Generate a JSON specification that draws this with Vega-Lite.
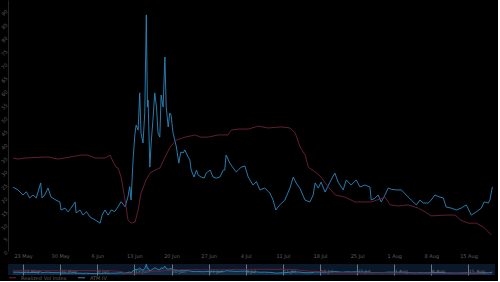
{
  "$schema": "https://vega.github.io/schema/vega-lite/v6.json",
  "background": "#000000",
  "padding": {"left": 0, "top": 0, "right": 3, "bottom": 0},
  "spacing": 4,
  "config": {
    "view": {"stroke": null},
    "font": "DejaVu Sans",
    "axis": {"labelFont": "DejaVu Sans", "labelColor": "#5e5e5e", "labelFontSize": 5, "ticks": false, "grid": false, "title": null}
  },
  "data": {
    "values": [
      {"t": "2016-05-21T03:00", "s": "ATM IV", "v": 23.8},
      {"t": "2016-05-22T01:00", "s": "ATM IV", "v": 22.8},
      {"t": "2016-05-23T00:00", "s": "ATM IV", "v": 20.9},
      {"t": "2016-05-23T15:00", "s": "ATM IV", "v": 22.1},
      {"t": "2016-05-24T06:00", "s": "ATM IV", "v": 19.8},
      {"t": "2016-05-24T21:00", "s": "ATM IV", "v": 20.9},
      {"t": "2016-05-25T12:00", "s": "ATM IV", "v": 19.8},
      {"t": "2016-05-26T08:00", "s": "ATM IV", "v": 25.4},
      {"t": "2016-05-26T14:00", "s": "ATM IV", "v": 19.8},
      {"t": "2016-05-27T02:00", "s": "ATM IV", "v": 20.9},
      {"t": "2016-05-27T17:00", "s": "ATM IV", "v": 23.5},
      {"t": "2016-05-28T07:00", "s": "ATM IV", "v": 20.1},
      {"t": "2016-05-29T05:00", "s": "ATM IV", "v": 19.0},
      {"t": "2016-05-29T23:00", "s": "ATM IV", "v": 18.3},
      {"t": "2016-05-30T04:00", "s": "ATM IV", "v": 15.3},
      {"t": "2016-05-30T22:00", "s": "ATM IV", "v": 16.0},
      {"t": "2016-05-31T12:00", "s": "ATM IV", "v": 14.6},
      {"t": "2016-06-01T00:00", "s": "ATM IV", "v": 15.9},
      {"t": "2016-06-01T20:00", "s": "ATM IV", "v": 18.3},
      {"t": "2016-06-02T00:00", "s": "ATM IV", "v": 14.2},
      {"t": "2016-06-02T18:00", "s": "ATM IV", "v": 15.3},
      {"t": "2016-06-03T08:00", "s": "ATM IV", "v": 13.4},
      {"t": "2016-06-03T23:00", "s": "ATM IV", "v": 14.7},
      {"t": "2016-06-04T15:00", "s": "ATM IV", "v": 12.7},
      {"t": "2016-06-05T14:00", "s": "ATM IV", "v": 11.6},
      {"t": "2016-06-06T13:00", "s": "ATM IV", "v": 10.4},
      {"t": "2016-06-06T22:00", "s": "ATM IV", "v": 13.4},
      {"t": "2016-06-07T11:00", "s": "ATM IV", "v": 15.3},
      {"t": "2016-06-08T01:00", "s": "ATM IV", "v": 13.4},
      {"t": "2016-06-08T15:00", "s": "ATM IV", "v": 15.3},
      {"t": "2016-06-09T07:00", "s": "ATM IV", "v": 14.7},
      {"t": "2016-06-09T22:00", "s": "ATM IV", "v": 16.5},
      {"t": "2016-06-10T12:00", "s": "ATM IV", "v": 18.4},
      {"t": "2016-06-11T06:00", "s": "ATM IV", "v": 16.5},
      {"t": "2016-06-11T19:00", "s": "ATM IV", "v": 20.3},
      {"t": "2016-06-12T03:00", "s": "ATM IV", "v": 24.0},
      {"t": "2016-06-12T09:00", "s": "ATM IV", "v": 19.0},
      {"t": "2016-06-12T18:00", "s": "ATM IV", "v": 34.0},
      {"t": "2016-06-13T02:00", "s": "ATM IV", "v": 43.3},
      {"t": "2016-06-13T08:00", "s": "ATM IV", "v": 47.0},
      {"t": "2016-06-13T17:00", "s": "ATM IV", "v": 45.1},
      {"t": "2016-06-14T00:00", "s": "ATM IV", "v": 59.0},
      {"t": "2016-06-14T06:00", "s": "ATM IV", "v": 44.0},
      {"t": "2016-06-14T15:00", "s": "ATM IV", "v": 40.3},
      {"t": "2016-06-14T23:00", "s": "ATM IV", "v": 51.5},
      {"t": "2016-06-15T06:00", "s": "ATM IV", "v": 88.1},
      {"t": "2016-06-15T11:00", "s": "ATM IV", "v": 53.7},
      {"t": "2016-06-15T14:00", "s": "ATM IV", "v": 56.3},
      {"t": "2016-06-15T22:00", "s": "ATM IV", "v": 31.3},
      {"t": "2016-06-16T04:00", "s": "ATM IV", "v": 40.3},
      {"t": "2016-06-16T13:00", "s": "ATM IV", "v": 50.0},
      {"t": "2016-06-16T20:00", "s": "ATM IV", "v": 59.0},
      {"t": "2016-06-17T04:00", "s": "ATM IV", "v": 53.7},
      {"t": "2016-06-17T11:00", "s": "ATM IV", "v": 44.0},
      {"t": "2016-06-17T19:00", "s": "ATM IV", "v": 42.5},
      {"t": "2016-06-18T01:00", "s": "ATM IV", "v": 58.2},
      {"t": "2016-06-18T10:00", "s": "ATM IV", "v": 53.7},
      {"t": "2016-06-18T18:00", "s": "ATM IV", "v": 72.4},
      {"t": "2016-06-19T00:00", "s": "ATM IV", "v": 53.7},
      {"t": "2016-06-19T09:00", "s": "ATM IV", "v": 46.3},
      {"t": "2016-06-19T16:00", "s": "ATM IV", "v": 51.5},
      {"t": "2016-06-19T22:00", "s": "ATM IV", "v": 50.7},
      {"t": "2016-06-20T07:00", "s": "ATM IV", "v": 44.0},
      {"t": "2016-06-20T15:00", "s": "ATM IV", "v": 41.4},
      {"t": "2016-06-20T22:00", "s": "ATM IV", "v": 38.8},
      {"t": "2016-06-21T09:00", "s": "ATM IV", "v": 32.8},
      {"t": "2016-06-21T18:00", "s": "ATM IV", "v": 36.9},
      {"t": "2016-06-22T05:00", "s": "ATM IV", "v": 36.6},
      {"t": "2016-06-22T12:00", "s": "ATM IV", "v": 37.7},
      {"t": "2016-06-23T03:00", "s": "ATM IV", "v": 35.1},
      {"t": "2016-06-23T11:00", "s": "ATM IV", "v": 34.0},
      {"t": "2016-06-23T17:00", "s": "ATM IV", "v": 30.2},
      {"t": "2016-06-24T06:00", "s": "ATM IV", "v": 27.6},
      {"t": "2016-06-24T17:00", "s": "ATM IV", "v": 30.2},
      {"t": "2016-06-25T00:00", "s": "ATM IV", "v": 28.4},
      {"t": "2016-06-25T14:00", "s": "ATM IV", "v": 27.6},
      {"t": "2016-06-26T04:00", "s": "ATM IV", "v": 27.2},
      {"t": "2016-06-26T13:00", "s": "ATM IV", "v": 29.1},
      {"t": "2016-06-27T07:00", "s": "ATM IV", "v": 30.2},
      {"t": "2016-06-27T20:00", "s": "ATM IV", "v": 27.6},
      {"t": "2016-06-28T10:00", "s": "ATM IV", "v": 27.2},
      {"t": "2016-06-29T03:00", "s": "ATM IV", "v": 27.6},
      {"t": "2016-06-29T18:00", "s": "ATM IV", "v": 30.2},
      {"t": "2016-06-30T01:00", "s": "ATM IV", "v": 30.2},
      {"t": "2016-06-30T07:00", "s": "ATM IV", "v": 35.8},
      {"t": "2016-07-01T00:00", "s": "ATM IV", "v": 32.8},
      {"t": "2016-07-01T15:00", "s": "ATM IV", "v": 31.0},
      {"t": "2016-07-02T05:00", "s": "ATM IV", "v": 29.5},
      {"t": "2016-07-02T14:00", "s": "ATM IV", "v": 30.2},
      {"t": "2016-07-03T03:00", "s": "ATM IV", "v": 31.3},
      {"t": "2016-07-03T20:00", "s": "ATM IV", "v": 31.7},
      {"t": "2016-07-04T11:00", "s": "ATM IV", "v": 27.6},
      {"t": "2016-07-05T09:00", "s": "ATM IV", "v": 24.6},
      {"t": "2016-07-06T00:00", "s": "ATM IV", "v": 25.9},
      {"t": "2016-07-06T16:00", "s": "ATM IV", "v": 22.8},
      {"t": "2016-07-07T14:00", "s": "ATM IV", "v": 23.5},
      {"t": "2016-07-08T13:00", "s": "ATM IV", "v": 21.6},
      {"t": "2016-07-09T04:00", "s": "ATM IV", "v": 19.0},
      {"t": "2016-07-09T16:00", "s": "ATM IV", "v": 15.3},
      {"t": "2016-07-10T10:00", "s": "ATM IV", "v": 17.2},
      {"t": "2016-07-11T09:00", "s": "ATM IV", "v": 19.0},
      {"t": "2016-07-12T08:00", "s": "ATM IV", "v": 23.5},
      {"t": "2016-07-12T23:00", "s": "ATM IV", "v": 27.6},
      {"t": "2016-07-13T12:00", "s": "ATM IV", "v": 25.4},
      {"t": "2016-07-14T05:00", "s": "ATM IV", "v": 23.4},
      {"t": "2016-07-15T04:00", "s": "ATM IV", "v": 19.0},
      {"t": "2016-07-16T02:00", "s": "ATM IV", "v": 18.3},
      {"t": "2016-07-16T17:00", "s": "ATM IV", "v": 20.9},
      {"t": "2016-07-17T02:00", "s": "ATM IV", "v": 25.4},
      {"t": "2016-07-17T16:00", "s": "ATM IV", "v": 23.5},
      {"t": "2016-07-18T05:00", "s": "ATM IV", "v": 25.7},
      {"t": "2016-07-18T23:00", "s": "ATM IV", "v": 22.0},
      {"t": "2016-07-19T21:00", "s": "ATM IV", "v": 25.7},
      {"t": "2016-07-20T19:00", "s": "ATM IV", "v": 29.1},
      {"t": "2016-07-21T10:00", "s": "ATM IV", "v": 25.7},
      {"t": "2016-07-22T09:00", "s": "ATM IV", "v": 22.8},
      {"t": "2016-07-22T23:00", "s": "ATM IV", "v": 26.5},
      {"t": "2016-07-23T21:00", "s": "ATM IV", "v": 24.6},
      {"t": "2016-07-24T20:00", "s": "ATM IV", "v": 26.5},
      {"t": "2016-07-25T13:00", "s": "ATM IV", "v": 23.9},
      {"t": "2016-07-26T11:00", "s": "ATM IV", "v": 24.6},
      {"t": "2016-07-27T10:00", "s": "ATM IV", "v": 23.9},
      {"t": "2016-07-27T16:00", "s": "ATM IV", "v": 19.0},
      {"t": "2016-07-28T08:00", "s": "ATM IV", "v": 19.7},
      {"t": "2016-07-28T23:00", "s": "ATM IV", "v": 20.9},
      {"t": "2016-07-29T13:00", "s": "ATM IV", "v": 18.3},
      {"t": "2016-07-30T06:00", "s": "ATM IV", "v": 20.9},
      {"t": "2016-07-30T21:00", "s": "ATM IV", "v": 23.5},
      {"t": "2016-07-31T12:00", "s": "ATM IV", "v": 23.0},
      {"t": "2016-08-01T09:00", "s": "ATM IV", "v": 22.8},
      {"t": "2016-08-02T08:00", "s": "ATM IV", "v": 22.8},
      {"t": "2016-08-03T06:00", "s": "ATM IV", "v": 20.9},
      {"t": "2016-08-04T05:00", "s": "ATM IV", "v": 19.0},
      {"t": "2016-08-05T04:00", "s": "ATM IV", "v": 17.2},
      {"t": "2016-08-05T20:00", "s": "ATM IV", "v": 19.0},
      {"t": "2016-08-06T11:00", "s": "ATM IV", "v": 17.9},
      {"t": "2016-08-07T10:00", "s": "ATM IV", "v": 17.9},
      {"t": "2016-08-07T23:00", "s": "ATM IV", "v": 19.0},
      {"t": "2016-08-08T16:00", "s": "ATM IV", "v": 20.9},
      {"t": "2016-08-09T15:00", "s": "ATM IV", "v": 20.1},
      {"t": "2016-08-10T06:00", "s": "ATM IV", "v": 19.8},
      {"t": "2016-08-10T19:00", "s": "ATM IV", "v": 16.4},
      {"t": "2016-08-11T18:00", "s": "ATM IV", "v": 16.0},
      {"t": "2016-08-12T17:00", "s": "ATM IV", "v": 15.3},
      {"t": "2016-08-13T15:00", "s": "ATM IV", "v": 16.0},
      {"t": "2016-08-14T14:00", "s": "ATM IV", "v": 17.2},
      {"t": "2016-08-15T13:00", "s": "ATM IV", "v": 13.4},
      {"t": "2016-08-16T11:00", "s": "ATM IV", "v": 14.6},
      {"t": "2016-08-17T10:00", "s": "ATM IV", "v": 16.0},
      {"t": "2016-08-17T23:00", "s": "ATM IV", "v": 18.3},
      {"t": "2016-08-18T18:00", "s": "ATM IV", "v": 17.9},
      {"t": "2016-08-19T01:00", "s": "ATM IV", "v": 19.0},
      {"t": "2016-08-19T12:00", "s": "ATM IV", "v": 23.9},
      {"t": "2016-05-21T03:00", "s": "Realized Vol Index", "v": 34.7},
      {"t": "2016-05-22T01:00", "s": "Realized Vol Index", "v": 34.3},
      {"t": "2016-05-23T09:00", "s": "Realized Vol Index", "v": 34.7},
      {"t": "2016-05-27T17:00", "s": "Realized Vol Index", "v": 35.1},
      {"t": "2016-05-29T15:00", "s": "Realized Vol Index", "v": 34.3},
      {"t": "2016-06-02T23:00", "s": "Realized Vol Index", "v": 35.8},
      {"t": "2016-06-04T06:00", "s": "Realized Vol Index", "v": 35.8},
      {"t": "2016-06-05T14:00", "s": "Realized Vol Index", "v": 34.7},
      {"t": "2016-06-07T11:00", "s": "Realized Vol Index", "v": 34.7},
      {"t": "2016-06-08T10:00", "s": "Realized Vol Index", "v": 35.8},
      {"t": "2016-06-09T00:00", "s": "Realized Vol Index", "v": 33.2},
      {"t": "2016-06-09T13:00", "s": "Realized Vol Index", "v": 31.3},
      {"t": "2016-06-09T22:00", "s": "Realized Vol Index", "v": 31.0},
      {"t": "2016-06-10T12:00", "s": "Realized Vol Index", "v": 27.6},
      {"t": "2016-06-11T06:00", "s": "Realized Vol Index", "v": 19.0},
      {"t": "2016-06-11T19:00", "s": "Realized Vol Index", "v": 11.6},
      {"t": "2016-06-12T09:00", "s": "Realized Vol Index", "v": 10.4},
      {"t": "2016-06-13T03:00", "s": "Realized Vol Index", "v": 10.8},
      {"t": "2016-06-13T17:00", "s": "Realized Vol Index", "v": 15.3},
      {"t": "2016-06-14T06:00", "s": "Realized Vol Index", "v": 21.6},
      {"t": "2016-06-15T05:00", "s": "Realized Vol Index", "v": 26.5},
      {"t": "2016-06-15T23:00", "s": "Realized Vol Index", "v": 29.1},
      {"t": "2016-06-16T22:00", "s": "Realized Vol Index", "v": 30.2},
      {"t": "2016-06-17T20:00", "s": "Realized Vol Index", "v": 31.0},
      {"t": "2016-06-18T19:00", "s": "Realized Vol Index", "v": 35.1},
      {"t": "2016-06-19T18:00", "s": "Realized Vol Index", "v": 38.8},
      {"t": "2016-06-20T21:00", "s": "Realized Vol Index", "v": 41.4},
      {"t": "2016-06-22T14:00", "s": "Realized Vol Index", "v": 42.5},
      {"t": "2016-06-24T11:00", "s": "Realized Vol Index", "v": 43.3},
      {"t": "2016-06-25T10:00", "s": "Realized Vol Index", "v": 42.5},
      {"t": "2016-06-26T22:00", "s": "Realized Vol Index", "v": 42.5},
      {"t": "2016-06-28T19:00", "s": "Realized Vol Index", "v": 43.3},
      {"t": "2016-06-30T16:00", "s": "Realized Vol Index", "v": 43.3},
      {"t": "2016-07-01T06:00", "s": "Realized Vol Index", "v": 45.1},
      {"t": "2016-07-02T14:00", "s": "Realized Vol Index", "v": 45.5},
      {"t": "2016-07-04T11:00", "s": "Realized Vol Index", "v": 45.5},
      {"t": "2016-07-06T08:00", "s": "Realized Vol Index", "v": 46.6},
      {"t": "2016-07-08T05:00", "s": "Realized Vol Index", "v": 45.9},
      {"t": "2016-07-10T16:00", "s": "Realized Vol Index", "v": 46.3},
      {"t": "2016-07-12T09:00", "s": "Realized Vol Index", "v": 45.9},
      {"t": "2016-07-13T08:00", "s": "Realized Vol Index", "v": 44.0},
      {"t": "2016-07-14T06:00", "s": "Realized Vol Index", "v": 38.8},
      {"t": "2016-07-15T05:00", "s": "Realized Vol Index", "v": 35.8},
      {"t": "2016-07-15T19:00", "s": "Realized Vol Index", "v": 31.3},
      {"t": "2016-07-17T02:00", "s": "Realized Vol Index", "v": 29.5},
      {"t": "2016-07-18T05:00", "s": "Realized Vol Index", "v": 27.6},
      {"t": "2016-07-19T13:00", "s": "Realized Vol Index", "v": 23.9},
      {"t": "2016-07-20T21:00", "s": "Realized Vol Index", "v": 20.9},
      {"t": "2016-07-22T18:00", "s": "Realized Vol Index", "v": 20.1},
      {"t": "2016-07-24T15:00", "s": "Realized Vol Index", "v": 18.3},
      {"t": "2016-07-26T13:00", "s": "Realized Vol Index", "v": 18.3},
      {"t": "2016-07-27T16:00", "s": "Realized Vol Index", "v": 18.3},
      {"t": "2016-07-30T07:00", "s": "Realized Vol Index", "v": 20.1},
      {"t": "2016-07-31T06:00", "s": "Realized Vol Index", "v": 17.2},
      {"t": "2016-08-01T18:00", "s": "Realized Vol Index", "v": 16.8},
      {"t": "2016-08-03T15:00", "s": "Realized Vol Index", "v": 17.2},
      {"t": "2016-08-05T13:00", "s": "Realized Vol Index", "v": 16.0},
      {"t": "2016-08-06T20:00", "s": "Realized Vol Index", "v": 14.6},
      {"t": "2016-08-07T23:00", "s": "Realized Vol Index", "v": 13.1},
      {"t": "2016-08-10T15:00", "s": "Realized Vol Index", "v": 13.4},
      {"t": "2016-08-12T12:00", "s": "Realized Vol Index", "v": 13.4},
      {"t": "2016-08-13T11:00", "s": "Realized Vol Index", "v": 11.6},
      {"t": "2016-08-14T23:00", "s": "Realized Vol Index", "v": 10.4},
      {"t": "2016-08-16T11:00", "s": "Realized Vol Index", "v": 10.4},
      {"t": "2016-08-17T19:00", "s": "Realized Vol Index", "v": 9.0},
      {"t": "2016-08-18T18:00", "s": "Realized Vol Index", "v": 7.1},
      {"t": "2016-08-19T07:00", "s": "Realized Vol Index", "v": 6.0}
    ]
  },
  "vconcat": [
    {
      "width": 487,
      "height": 251,
      "mark": {"type": "line", "strokeWidth": 0.9},
      "encoding": {
        "x": {
          "field": "t", "type": "temporal",
          "scale": {"domain": [{"year": 2016, "month": 5, "date": 20, "hours": 4}, {"year": 2016, "month": 8, "date": 20}]},
          "axis": {
            "format": "%-d %b", "domain": false, "labelPadding": 2,
            "values": [
              {"year": 2016, "month": 5, "date": 23}, {"year": 2016, "month": 5, "date": 30},
              {"year": 2016, "month": 6, "date": 6}, {"year": 2016, "month": 6, "date": 13},
              {"year": 2016, "month": 6, "date": 20}, {"year": 2016, "month": 6, "date": 27},
              {"year": 2016, "month": 7, "date": 4}, {"year": 2016, "month": 7, "date": 11},
              {"year": 2016, "month": 7, "date": 18}, {"year": 2016, "month": 7, "date": 25},
              {"year": 2016, "month": 8, "date": 1}, {"year": 2016, "month": 8, "date": 8},
              {"year": 2016, "month": 8, "date": 15}
            ]
          }
        },
        "y": {
          "field": "v", "type": "quantitative",
          "scale": {"domain": [0, 93.66], "nice": false, "zero": false},
          "axis": {
            "values": [0, 5, 10, 15, 20, 25, 30, 35, 40, 45, 50, 55, 60, 65, 70, 75, 80, 85, 90],
            "labelAngle": -45, "labelPadding": 2, "domain": true, "domainColor": "#262626", "domainWidth": 1
          }
        },
        "color": {
          "field": "s", "type": "nominal",
          "scale": {"domain": ["Realized Vol Index", "ATM IV"], "range": ["#6c2139", "#2a88bf"]},
          "legend": {
            "orient": "none", "legendX": 0, "legendY": 273, "direction": "horizontal", "title": null,
            "symbolType": "stroke", "symbolSize": 50, "symbolStrokeWidth": 1,
            "labelFontSize": 5, "labelColor": "#5e5e5e", "columnPadding": 8
          }
        }
      }
    },
    {
      "width": 487,
      "height": 11,
      "view": {"fill": "#0b1829", "stroke": null},
      "layer": [
        {
          "transform": [{"filter": "datum.s == 'ATM IV'"}],
          "mark": {"type": "area", "color": "#2a88bf", "opacity": 0.18},
          "encoding": {
            "x": {"field": "t", "type": "temporal"},
            "y": {"field": "v", "type": "quantitative"}
          }
        },
        {
          "mark": {"type": "line", "strokeWidth": 0.9},
          "encoding": {
            "x": {"field": "t", "type": "temporal"},
            "y": {"field": "v", "type": "quantitative"},
            "color": {"field": "s", "type": "nominal"}
          }
        }
      ],
      "encoding": {
        "x": {
          "field": "t", "type": "temporal",
          "scale": {"domain": [{"year": 2016, "month": 5, "date": 20, "hours": 4}, {"year": 2016, "month": 8, "date": 20}]},
          "axis": {
            "format": "%-d %b", "domain": false, "grid": true, "gridColor": "#9a9a9a", "gridOpacity": 0.7,
            "labelAlign": "left", "labelDx": 2, "labelPadding": -7, "labelFontSize": 4.5, "labelColor": "#7a7a7a",
            "values": [
              {"year": 2016, "month": 5, "date": 23}, {"year": 2016, "month": 5, "date": 30},
              {"year": 2016, "month": 6, "date": 6}, {"year": 2016, "month": 6, "date": 13},
              {"year": 2016, "month": 6, "date": 20}, {"year": 2016, "month": 6, "date": 27},
              {"year": 2016, "month": 7, "date": 4}, {"year": 2016, "month": 7, "date": 11},
              {"year": 2016, "month": 7, "date": 18}, {"year": 2016, "month": 7, "date": 25},
              {"year": 2016, "month": 8, "date": 1}, {"year": 2016, "month": 8, "date": 8},
              {"year": 2016, "month": 8, "date": 15}
            ]
          }
        },
        "y": {
          "field": "v", "type": "quantitative",
          "scale": {"domain": [0, 90], "nice": false, "zero": false},
          "axis": null
        }
      }
    }
  ]
}
